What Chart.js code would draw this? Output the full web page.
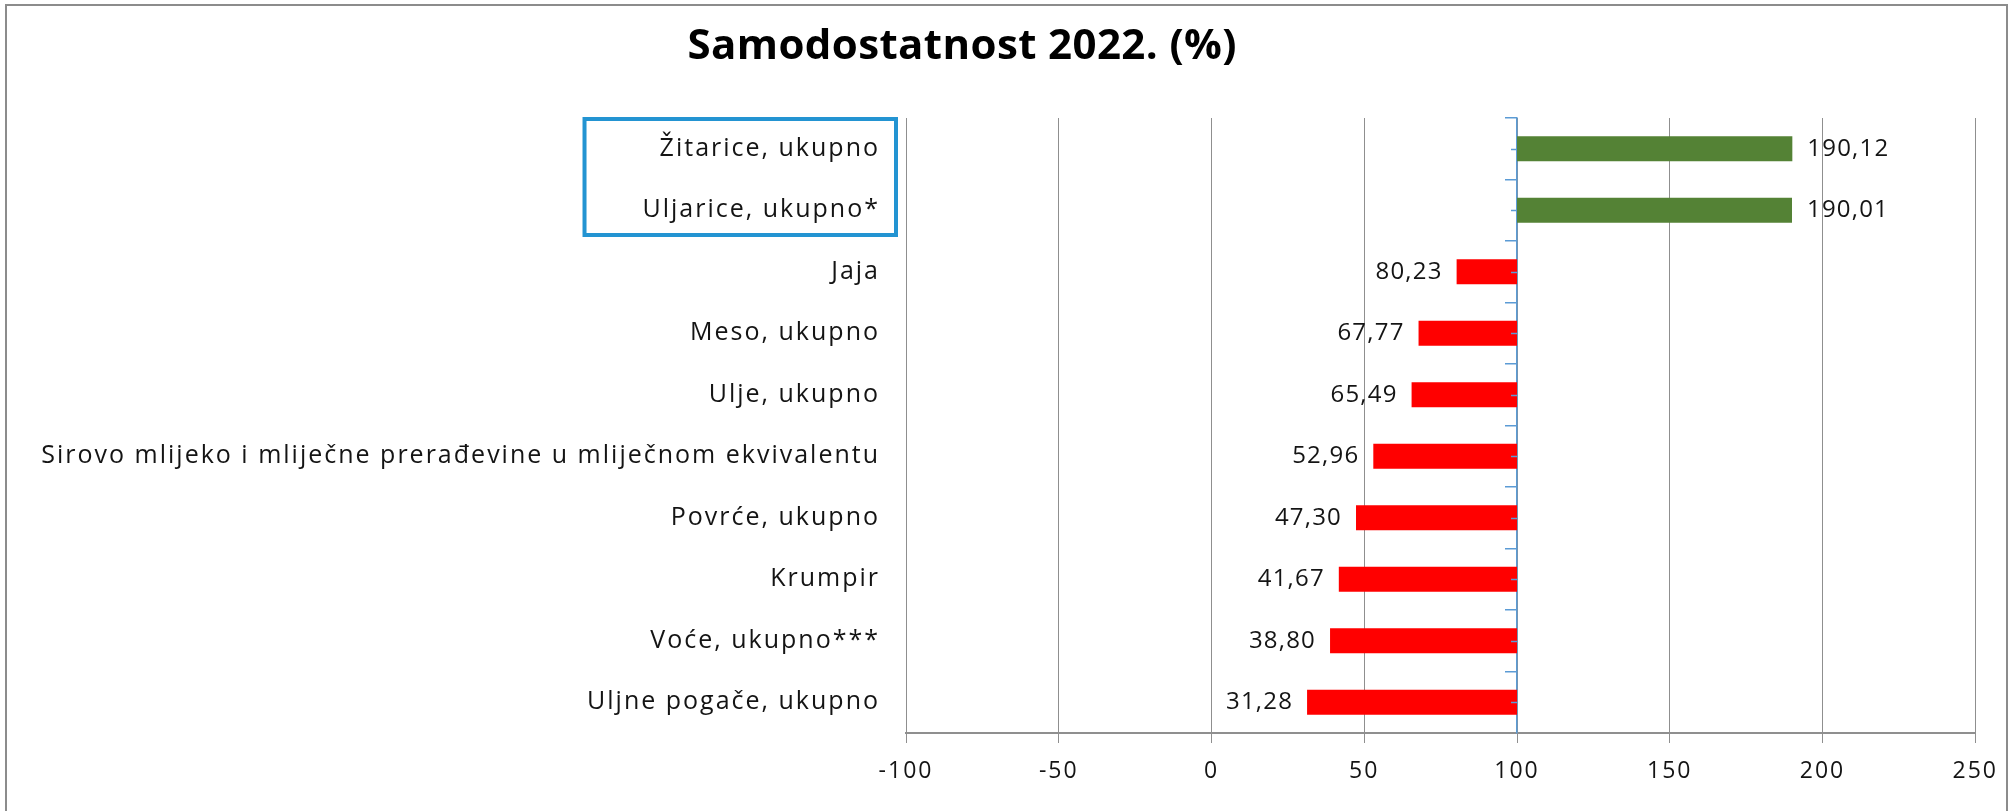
<!DOCTYPE html>
<html>
<head>
<meta charset="utf-8">
<title>Samodostatnost 2022.</title>
<script src="https://cdn.jsdelivr.net/npm/chart.js@4.4.1/dist/chart.umd.min.js"></script>
<style>
    html, body { margin: 0; padding: 0; background: #ffffff; }
    #wrap { position: relative; width: 2013px; height: 811px; }
</style>
</head>
<body>
<div id="wrap"><canvas id="samodostatnostChart"></canvas></div>
<script>
// Kategorije proizvoda (odozgo prema dolje)
const categories = [
    'Žitarice, ukupno',
    'Uljarice, ukupno*',
    'Jaja',
    'Meso, ukupno',
    'Ulje, ukupno',
    'Sirovo mlijeko i mliječne prerađevine u mliječnom ekvivalentu',
    'Povrće, ukupno',
    'Krumpir',
    'Voće, ukupno***',
    'Uljne pogače, ukupno'
];

// Stupanj samodostatnosti u 2022. (%)
const selfSufficiency = [190.12, 190.01, 80.23, 67.77, 65.49, 52.96, 47.30, 41.67, 38.80, 31.28];

// Stupci kreću od granice od 100 %
const baseline = 100;

// Raspon osi x
const xMin = -100;
const xMax = 250;
const xStep = 50;

// Kategorije uokvirene plavim pravokutnikom
const highlighted = [0, 1];

const chartTitle = 'Samodostatnost 2022. (%)';

const FONT = "'Open Sans', 'Noto Sans', sans-serif";
const TEXT_COLOR = '#141414';
const GRID_COLOR = '#8f8f8f';
const AXIS_BLUE = '#5b9bd5';
const LABEL_SPACING = '2px';

function formatValue(v) {
    return v.toFixed(2).replace('.', ',');
}

// Razmak između slova za oznake osi (mjeri se i crta s istim razmakom)
const letterSpacing = {
    id: 'letterSpacing',
    beforeUpdate(chart) {
        chart.ctx.letterSpacing = LABEL_SPACING;
    },
    beforeDraw(chart) {
        chart.ctx.letterSpacing = LABEL_SPACING;
    }
};

// Okvir oko cijelog grafikona i naslov
const frameAndTitle = {
    id: 'frameAndTitle',
    beforeDraw(chart) {
        const ctx = chart.ctx;
        ctx.save();
        ctx.fillStyle = '#ffffff';
        ctx.fillRect(0, 0, chart.width, chart.height);
        ctx.strokeStyle = '#8c8c8c';
        ctx.lineWidth = 2;
        ctx.strokeRect(6, 5, chart.width - 12, chart.height + 20);
        ctx.restore();
    },
    afterDraw(chart) {
        const ctx = chart.ctx;
        ctx.save();
        ctx.letterSpacing = '0.4px';
        ctx.font = 'bold 42px ' + FONT;
        ctx.fillStyle = '#000000';
        ctx.textAlign = 'center';
        ctx.textBaseline = 'middle';
        ctx.fillText(chartTitle, chart.width * 0.478, 47);
        ctx.restore();
    }
};

// Vrijednosti uz krajeve stupaca i sitne oznake na osi kod 100
const barValues = {
    id: 'barValues',
    afterDatasetsDraw(chart) {
        const ctx = chart.ctx;
        const meta = chart.getDatasetMeta(0);
        const xScale = chart.scales.x;
        const yScale = chart.scales.y;
        const axisX = xScale.getPixelForValue(baseline);

        ctx.save();
        ctx.strokeStyle = AXIS_BLUE;
        ctx.lineWidth = 1.5;
        categories.forEach((c, i) => {
            const y = Math.round(yScale.getPixelForValue(i)) + 0.5;
            ctx.beginPath();
            ctx.moveTo(axisX - 6, y);
            ctx.lineTo(axisX, y);
            ctx.stroke();
        });

        ctx.letterSpacing = '1.2px';
        ctx.font = '24px ' + FONT;
        ctx.fillStyle = TEXT_COLOR;
        ctx.textBaseline = 'middle';
        meta.data.forEach((bar, i) => {
            const v = selfSufficiency[i];
            const end = xScale.getPixelForValue(v);
            if (v >= baseline) {
                ctx.textAlign = 'left';
                ctx.fillText(formatValue(v), end + 15, bar.y);
            } else {
                ctx.textAlign = 'right';
                ctx.fillText(formatValue(v), end - 14, bar.y);
            }
        });
        ctx.restore();
    }
};

// Plavi okvir oko istaknutih kategorija
const highlightBox = {
    id: 'highlightBox',
    afterDraw(chart) {
        const ctx = chart.ctx;
        const yScale = chart.scales.y;
        const step = yScale.getPixelForValue(1) - yScale.getPixelForValue(0);
        const top = yScale.getPixelForValue(highlighted[0]) - step / 2 + 1;
        const bottom = yScale.getPixelForValue(highlighted[highlighted.length - 1]) + step / 2 - 6;

        ctx.save();
        ctx.letterSpacing = LABEL_SPACING;
        ctx.font = '25px ' + FONT;
        const widest = Math.max(...highlighted.map(i => ctx.measureText(categories[i]).width));
        const right = chart.chartArea.left - 10;
        const textRight = chart.chartArea.left - 26;
        const left = textRight - widest - 58;
        ctx.strokeStyle = '#2394d2';
        ctx.lineWidth = 4;
        ctx.strokeRect(left, top, right - left, bottom - top);
        ctx.restore();
    }
};

const ctx = document.getElementById('samodostatnostChart').getContext('2d');

const chart = new Chart(ctx, {
    type: 'bar',
    data: {
        labels: categories,
        datasets: [{
            label: 'Samodostatnost 2022. (%)',
            data: selfSufficiency.map(v => [baseline, v]),
            backgroundColor: selfSufficiency.map(v => v >= baseline ? '#548235' : '#ff0000'),
            borderWidth: 0,
            barPercentage: 0.41,
            categoryPercentage: 1.0
        }]
    },
    options: {
        indexAxis: 'y',
        responsive: true,
        maintainAspectRatio: false,
        animation: false,
        layout: {
            padding: { top: 118, right: 36, bottom: 0, left: 0 }
        },
        scales: {
            x: {
                min: xMin,
                max: xMax,
                ticks: {
                    stepSize: xStep,
                    color: TEXT_COLOR,
                    font: { family: FONT, size: 23 },
                    padding: 15
                },
                grid: {
                    color: GRID_COLOR,
                    lineWidth: 1,
                    tickLength: 10
                },
                border: { color: GRID_COLOR, width: 2 },
                afterFit(scale) {
                    scale.height = 78;
                }
            },
            y: {
                ticks: {
                    color: TEXT_COLOR,
                    font: { family: FONT, size: 25 },
                    padding: 26,
                    autoSkip: false
                },
                grid: { display: false, drawTicks: false },
                border: { display: false },
                afterFit(scale) {
                    scale.width = 906;
                }
            },
            // Plava os koja siječe os x kod 100
            axis100: {
                type: 'category',
                axis: 'y',
                position: { x: baseline },
                offset: true,
                z: 1,
                grid: {
                    offset: true,
                    drawOnChartArea: false,
                    tickLength: 11,
                    color: AXIS_BLUE,
                    lineWidth: 1.5
                },
                border: { color: AXIS_BLUE, width: 1.5 },
                ticks: { display: false }
            }
        },
        plugins: {
            legend: { display: false },
            title: { display: false },
            tooltip: { enabled: false }
        }
    },
    plugins: [letterSpacing, frameAndTitle, barValues, highlightBox]
});
</script>
</body>
</html>
